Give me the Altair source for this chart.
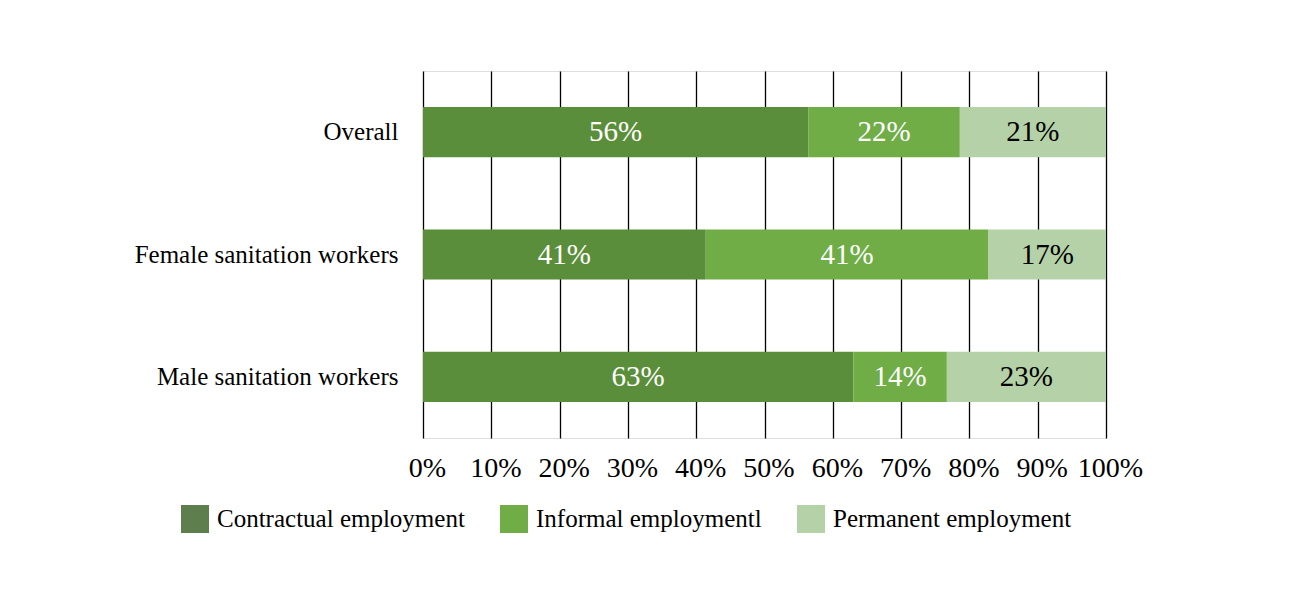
import altair as alt
import pandas as pd

groups = ["Overall", "Female sanitation workers", "Male sanitation workers"]
types = ["Contractual employment", "Informal employmentl", "Permanent employment"]
contractual = [56.4, 41.4, 63.0]
informal = [22.2, 41.4, 13.7]
permanent = [21.4, 17.2, 23.3]
x_ticks = [0, 10, 20, 30, 40, 50, 60, 70, 80, 90, 100]

bar_colors = ["#5B8E3A", "#70AD47", "#B5D1A7"]
legend_colors = ["#5E7E4E", "#70AD47", "#B5D1A7"]
text_colors = ["#FFFFFF", "#FFFFFF", "#000000"]

rows = []
for gi, g in enumerate(groups):
    for ti, (t, vals) in enumerate(zip(types, [contractual, informal, permanent])):
        rows.append({"group": g, "type": t, "value": vals[gi], "order": ti,
                     "tcolor": text_colors[ti]})
df = pd.DataFrame(rows)

FONT = "Liberation Serif"

base = alt.Chart(df).transform_stack(
    stack="value", groupby=["group"], as_=["v0", "v1"],
    sort=[alt.SortField("order", order="ascending")]
).transform_calculate(
    mid="(datum.v0 + datum.v1) / 2",
    label="format(datum.value / 100, '.0%')"
)

y_enc = alt.Y("group:N", sort=groups, title=None,
              scale=alt.Scale(paddingInner=0.59, paddingOuter=0.295),
              axis=alt.Axis(labelFont=FONT, labelFontSize=25, labelColor="#000000",
                            labelPadding=25, ticks=False, domain=False, grid=False,
                            labelLimit=400))

bars = base.mark_bar().encode(
    y=y_enc,
    x=alt.X("v0:Q", title=None,
            scale=alt.Scale(domain=[0, 100], nice=False),
            axis=alt.Axis(values=x_ticks,
                          labelExpr="datum.value + '%'",
                          labelFont=FONT, labelFontSize=28, labelColor="#000000",
                          labelPadding=16, labelOffset=4, labelOverlap=False,
                          labelFlush=False, labelBound=False,
                          ticks=False, domain=False,
                          grid=True, gridColor="#000000", gridWidth=1.3,
                          gridOpacity=1)),
    x2="v1:Q",
    color=alt.Color("type:N", sort=types,
                    scale=alt.Scale(domain=types, range=bar_colors), legend=None),
)

labels = base.mark_text(font=FONT, fontSize=29, baseline="middle", align="center").encode(
    y=alt.Y("group:N", sort=groups),
    x=alt.X("mid:Q"),
    text="label:N",
    color=alt.Color("tcolor:N", scale=None),
)

legend_layer = alt.Chart(df).transform_filter("false").mark_square().encode(
    y=alt.Y("group:N", sort=groups),
    fill=alt.Fill("type:N", sort=types,
                  scale=alt.Scale(domain=types, range=legend_colors),
                  legend=alt.Legend(title=None, orient="none", direction="horizontal",
                                    legendX=-242, legendY=434,
                                    symbolType="square", symbolSize=784,
                                    symbolStrokeWidth=0, symbolOpacity=1,
                                    labelFont=FONT, labelFontSize=25,
                                    labelColor="#000000", labelOffset=8,
                                    columnPadding=35, labelLimit=400)),
)

chart = alt.layer(bars, labels, legend_layer).resolve_scale(
    color="independent", fill="independent"
).properties(
    width=683, height=367,
    autosize=alt.AutoSizeParams(type="none"),
    padding={"left": 415, "top": 63, "right": 196, "bottom": 164},
).configure_view(stroke=None).configure(background="#FFFFFF")

chart.save("out.html", embed_options={"renderer": "svg", "actions": False})
